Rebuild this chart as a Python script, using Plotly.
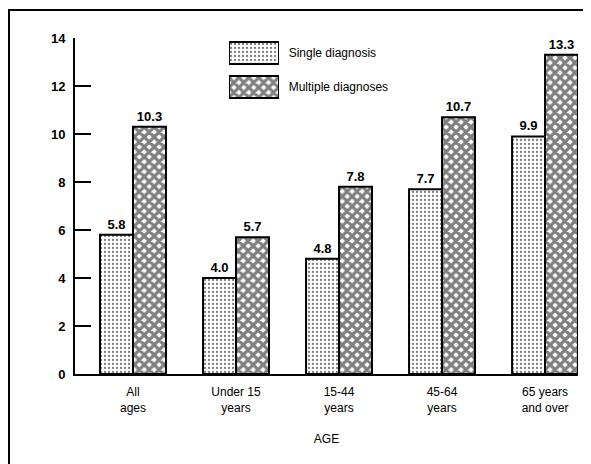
import plotly.graph_objects as go

categories = ["All<br>ages", "Under 15<br>years", "15-44<br>years", "45-64<br>years", "65 years<br>and over"]
single_values = [5.8, 4.0, 4.8, 7.7, 9.9]
multiple_values = [10.3, 5.7, 7.8, 10.7, 13.3]
series_names = ["Single diagnosis", "Multiple diagnoses"]
y_ticks = [0, 2, 4, 6, 8, 10, 12, 14]

FONT = "Liberation Sans, Arial, sans-serif"
single_pattern = dict(shape=".", fgcolor="black", bgcolor="white", size=4, solidity=0.25)
multi_pattern = dict(shape="x", fgcolor="black", bgcolor="white", size=7, solidity=0.7)

fig = go.Figure()
fig.add_trace(go.Bar(
    x=categories, y=single_values, name=series_names[0],
    marker=dict(color="white", pattern=single_pattern, line=dict(color="black", width=2)),
    texttemplate="%{y:.1f}", textposition="outside",
    textfont=dict(family=FONT, size=13, color="black", weight="bold"),
    cliponaxis=False, showlegend=False,
))
fig.add_trace(go.Bar(
    x=categories, y=multiple_values, name=series_names[1],
    marker=dict(color="white", pattern=multi_pattern, line=dict(color="black", width=2)),
    texttemplate="%{y:.1f}", textposition="outside",
    textfont=dict(family=FONT, size=13, color="black", weight="bold"),
    cliponaxis=False, showlegend=False,
))

# custom legend: swatches drawn on an inset axis
for name, pat in zip(series_names, [single_pattern, multi_pattern]):
    fig.add_trace(go.Bar(
        x=[1], y=[name], orientation="h", xaxis="x2", yaxis="y2",
        width=0.65, offset=-0.325,
        marker=dict(color="white", pattern=pat, line=dict(color="black", width=2)),
        text=[name], texttemplate="\u00a0\u00a0%{text}", textposition="outside",
        textfont=dict(family=FONT, size=12, color="black"),
        cliponaxis=False, showlegend=False, hoverinfo="skip",
    ))

# page body has an 8px margin, so the figure is sized/positioned to compensate
OFF = 8
W, H = 591 - OFF, 464 - OFF
L, T = 75 - OFF, 38 - OFF
pw, ph = 503, 336
R, B = W - L - pw, H - T - ph

def px_to_paper_x(px):
    return (px - OFF - L) / pw

def px_to_paper_y(py):
    return (T + ph - (py - OFF)) / ph

fig.update_layout(
    width=W, height=H,
    margin=dict(l=L, r=R, t=T, b=B, autoexpand=False),
    paper_bgcolor="white", plot_bgcolor="white",
    barmode="group", bargap=0.36, bargroupgap=0,
    font=dict(family=FONT, color="black"),
    xaxis=dict(
        range=[-0.563, 4.32], showgrid=False, zeroline=False,
        showline=True, linecolor="black", linewidth=2,
        ticks="", tickfont=dict(family=FONT, size=12, color="black"),
        ticklabelstandoff=6,
        title=dict(text="AGE", font=dict(family=FONT, size=12, color="black"), standoff=21),
    ),
    yaxis=dict(
        range=[0, 14], tickvals=y_ticks, showgrid=False, zeroline=False,
        showline=True, linecolor="black", linewidth=2,
        ticks="inside", ticklen=16, tickwidth=2, tickcolor="black",
        tickfont=dict(family=FONT, size=13, color="black", weight="bold"),
        ticklabelstandoff=5,
    ),
    xaxis2=dict(domain=[px_to_paper_x(229), px_to_paper_x(279)], range=[0, 1],
                anchor="y2", visible=False, fixedrange=True),
    yaxis2=dict(domain=[px_to_paper_y(104), 1.0], range=[1.5, -0.441],
                anchor="x2", visible=False, fixedrange=True,
                categoryorder="array", categoryarray=series_names),
    shapes=[dict(
        type="rect", xref="paper", yref="paper",
        x0=px_to_paper_x(9), x1=px_to_paper_x(600),
        y0=px_to_paper_y(480), y1=px_to_paper_y(10),
        line=dict(color="black", width=2), fillcolor="rgba(0,0,0,0)", layer="below",
    )],
)

fig.write_html("out.html")
